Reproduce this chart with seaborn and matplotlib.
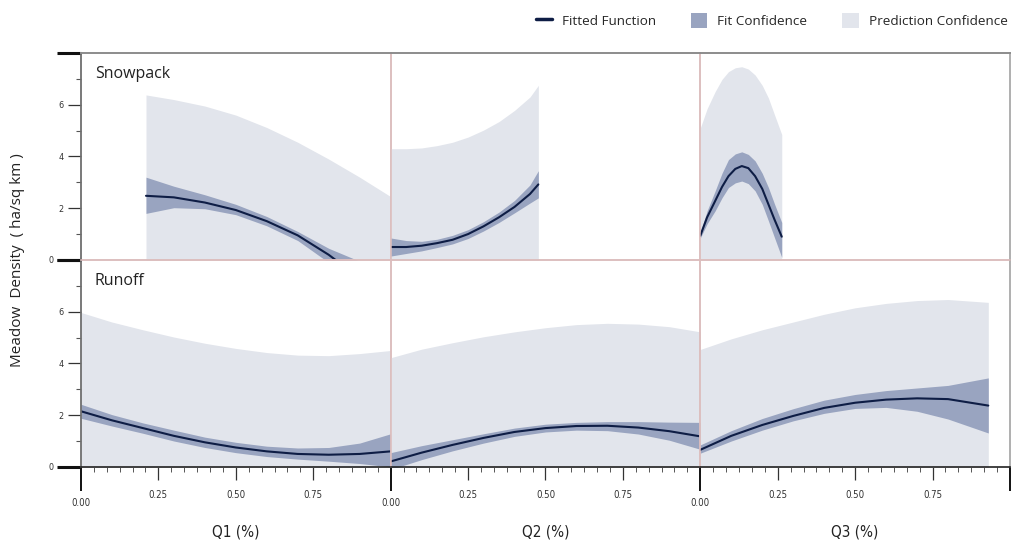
import matplotlib
matplotlib.use("Agg")
import matplotlib.pyplot as plt
from matplotlib.lines import Line2D
from matplotlib.patches import Patch
from matplotlib.ticker import FixedLocator, AutoMinorLocator
from matplotlib.font_manager import FontProperties
import seaborn as sns

# values
rows = ['Snowpack', 'Runoff']
xlabels = ['Q1 (%)', 'Q2 (%)', 'Q3 (%)']

# Snowpack / Q1
sq1_x = [0.21, 0.3, 0.4, 0.5, 0.6, 0.7, 0.8, 0.9, 1.0]
sq1_fit = [2.48, 2.42, 2.22, 1.93, 1.5, 0.95, 0.2, -0.7, -1.6]
sq1_lo = [1.8, 2.02, 1.98, 1.75, 1.32, 0.75, -0.1, -1.4, -2.6]
sq1_hi = [3.2, 2.85, 2.52, 2.15, 1.68, 1.1, 0.45, -0.05, -0.8]
sq1_plo = [-1.4, -1.4, -1.5, -1.7, -2.1, -2.6, -3.3, -4.2, -5.2]
sq1_phi = [6.38, 6.2, 5.95, 5.6, 5.12, 4.55, 3.9, 3.2, 2.45]

# Snowpack / Q2
sq2_x = [0.0, 0.05, 0.1, 0.15, 0.2, 0.25, 0.3, 0.35, 0.4, 0.45, 0.477]
sq2_fit = [0.5, 0.5, 0.55, 0.65, 0.78, 1.0, 1.3, 1.65, 2.05, 2.55, 2.92]
sq2_lo = [0.15, 0.25, 0.35, 0.48, 0.62, 0.83, 1.12, 1.45, 1.82, 2.2, 2.4]
sq2_hi = [0.85, 0.75, 0.72, 0.8, 0.95, 1.17, 1.48, 1.85, 2.3, 2.9, 3.45]
sq2_plo = [-3.3, -3.3, -3.2, -3.1, -3.0, -2.8, -2.4, -2.0, -1.6, -1.2, -0.9]
sq2_phi = [4.3, 4.3, 4.33, 4.42, 4.55, 4.75, 5.02, 5.35, 5.78, 6.3, 6.75]

# Snowpack / Q3
sq3_x = [0.0, 0.022, 0.048, 0.07, 0.091, 0.113, 0.134, 0.155, 0.177, 0.2, 0.22, 0.24, 0.263]
sq3_fit = [0.94, 1.65, 2.28, 2.82, 3.24, 3.52, 3.63, 3.55, 3.24, 2.75, 2.15, 1.55, 0.9]
sq3_lo = [0.85, 1.4, 1.9, 2.4, 2.8, 2.98, 3.05, 2.95, 2.67, 2.15, 1.51, 0.85, 0.1]
sq3_hi = [1.05, 1.9, 2.67, 3.35, 3.88, 4.1, 4.18, 4.08, 3.83, 3.35, 2.8, 2.15, 1.45]
sq3_plo = [-3.0, -2.3, -1.6, -1.1, -0.7, -0.45, -0.35, -0.45, -0.7, -1.1, -1.6, -2.2, -3.0]
sq3_phi = [5.1, 5.85, 6.51, 6.98, 7.28, 7.43, 7.47, 7.38, 7.15, 6.75, 6.26, 5.6, 4.85]

# Runoff / Q1
rq1_x = [0.0, 0.1, 0.2, 0.3, 0.4, 0.5, 0.6, 0.7, 0.8, 0.9, 1.0]
rq1_fit = [2.15, 1.8, 1.5, 1.2, 0.95, 0.75, 0.6, 0.5, 0.47, 0.5, 0.6]
rq1_lo = [1.88, 1.58, 1.3, 1.0, 0.75, 0.55, 0.4, 0.3, 0.22, 0.13, 0.0]
rq1_hi = [2.42, 2.02, 1.7, 1.42, 1.15, 0.95, 0.8, 0.73, 0.75, 0.92, 1.28]
rq1_plo = [-1.7, -2.0, -2.3, -2.6, -2.9, -3.1, -3.2, -3.3, -3.4, -3.4, -3.3]
rq1_phi = [5.97, 5.6, 5.3, 5.02, 4.78, 4.58, 4.42, 4.32, 4.3, 4.38, 4.5]

# Runoff / Q2
rq2_x = [0.0, 0.1, 0.2, 0.3, 0.4, 0.5, 0.6, 0.7, 0.8, 0.9, 1.0]
rq2_fit = [0.21, 0.55, 0.85, 1.12, 1.35, 1.5, 1.58, 1.59, 1.52, 1.38, 1.18]
rq2_lo = [-0.1, 0.28, 0.62, 0.92, 1.18, 1.35, 1.42, 1.4, 1.27, 1.03, 0.68]
rq2_hi = [0.55, 0.82, 1.05, 1.28, 1.5, 1.65, 1.72, 1.75, 1.75, 1.73, 1.72]
rq2_plo = [-3.8, -3.4, -3.1, -2.8, -2.5, -2.4, -2.3, -2.4, -2.5, -2.7, -2.9]
rq2_phi = [4.22, 4.55, 4.8, 5.03, 5.22, 5.38, 5.5, 5.55, 5.52, 5.42, 5.22]

# Runoff / Q3
rq3_x = [0.0, 0.1, 0.2, 0.3, 0.4, 0.5, 0.6, 0.7, 0.8, 0.93]
rq3_fit = [0.66, 1.2, 1.62, 1.97, 2.28, 2.48, 2.6, 2.65, 2.62, 2.37]
rq3_lo = [0.53, 1.0, 1.42, 1.78, 2.07, 2.26, 2.3, 2.15, 1.85, 1.31]
rq3_hi = [0.85, 1.4, 1.87, 2.25, 2.58, 2.8, 2.95, 3.05, 3.15, 3.44]
rq3_plo = [-3.2, -2.5, -2.0, -1.6, -1.3, -1.2, -1.1, -1.1, -1.2, -1.6]
rq3_phi = [4.54, 4.95, 5.3, 5.6, 5.9, 6.15, 6.32, 6.43, 6.47, 6.36]

panels = [
    [(sq1_x, sq1_fit, sq1_lo, sq1_hi, sq1_plo, sq1_phi),
     (sq2_x, sq2_fit, sq2_lo, sq2_hi, sq2_plo, sq2_phi),
     (sq3_x, sq3_fit, sq3_lo, sq3_hi, sq3_plo, sq3_phi)],
    [(rq1_x, rq1_fit, rq1_lo, rq1_hi, rq1_plo, rq1_phi),
     (rq2_x, rq2_fit, rq2_lo, rq2_hi, rq2_plo, rq2_phi),
     (rq3_x, rq3_fit, rq3_lo, rq3_hi, rq3_plo, rq3_phi)],
]

LINE = '#0e1d45'
FITC = '#99a4c0'
PRED = '#e2e5ec'
PINK = '#dcbdbd'

sns.set_theme(style='white')
plt.rcParams['font.family'] = ['Open Sans', 'DejaVu Sans']

cond = FontProperties(family='DejaVu Sans', stretch='condensed', size=6.5)
cond_x = FontProperties(family='DejaVu Sans', stretch='condensed', size=6.9)
cond_big = FontProperties(family='DejaVu Sans', stretch='condensed', size=11)

fig = plt.figure(figsize=(10.12, 5.41), dpi=100)
gs = fig.add_gridspec(2, 3, left=0.080, right=0.998, top=0.902, bottom=0.137,
                      wspace=0, hspace=0)
axes = gs.subplots()

for r in range(2):
    for c in range(3):
        ax = axes[r, c]
        x, fit, lo, hi, plo, phi = panels[r][c]
        ax.patch.set_visible(False)
        ax.fill_between(x, plo, phi, color=PRED, lw=0)
        ax.fill_between(x, lo, hi, color=FITC, lw=0)
        sns.lineplot(x=x, y=fit, ax=ax, color=LINE, lw=1.5)
        ax.set_xlim(0, 1)
        ax.set_ylim(0, 8)
        ax.set_xlabel('')
        ax.set_ylabel('')

        for s in ax.spines.values():
            s.set_color(PINK)
            s.set_linewidth(1.1)
        if r == 0:
            ax.spines['top'].set_color('#8c8c8c')
            ax.spines['top'].set_linewidth(1.4)
        if r == 1:
            ax.spines['bottom'].set_color('#222222')
            ax.spines['bottom'].set_linewidth(1.2)
        if c == 0:
            ax.spines['left'].set_color('#6e6e6e')
            ax.spines['left'].set_linewidth(1.3)
        if c == 2:
            ax.spines['right'].set_color('#9a9a9a')

        # y axis
        if c == 0:
            ax.yaxis.set_major_locator(FixedLocator([0, 2, 4, 6, 8]))
            ax.set_yticklabels(['0', '2', '4', '6', ''])
            ax.yaxis.set_minor_locator(FixedLocator([1, 3, 5, 7]))
            ax.tick_params(axis='y', which='major', left=True, length=9.5, width=0.9,
                           color='#333333', pad=3, labelcolor='#333333')
            ax.tick_params(axis='y', which='minor', left=True, length=3.5, width=0.8,
                           color='#555555')
            for lab in ax.get_yticklabels():
                lab.set_fontproperties(cond)
            ticks = ax.yaxis.get_major_ticks(5)
            for i in (0, 4):
                ticks[i]._apply_params(size=17, width=2.2, color='#111111')
        else:
            ax.tick_params(axis='y', which='both', left=False, labelleft=False)

        # x axis
        if r == 1:
            locs = [0, 0.25, 0.5, 0.75]
            labs = ['0.00', '0.25', '0.50', '0.75']
            if c == 2:
                locs = locs + [1.0]
                labs = labs + ['']
            ax.xaxis.set_major_locator(FixedLocator(locs))
            ax.set_xticklabels(labs)
            ax.xaxis.set_minor_locator(AutoMinorLocator(6))
            ax.tick_params(axis='x', which='major', bottom=True, length=9.5, width=0.9,
                           color='#333333', pad=7.5, labelcolor='#333333')
            ax.tick_params(axis='x', which='minor', bottom=True, length=3.5, width=0.7,
                           color='#555555')
            for lab in ax.get_xticklabels():
                lab.set_fontproperties(cond_x)
            ticks = ax.xaxis.get_major_ticks(len(locs))
            ticks[0]._apply_params(size=17, width=1.4, color='#111111', pad=5.5)
            if c == 2:
                ticks[-1]._apply_params(size=17, width=1.4, color='#111111')
            ax.text(0.5, -0.316, xlabels[c], transform=ax.transAxes, ha='center',
                    va='center', fontproperties=cond_big, color='#222222')
        else:
            ax.tick_params(axis='x', which='both', bottom=False, labelbottom=False)

    axes[r, 0].text(0.045, 0.9, rows[r], transform=axes[r, 0].transAxes,
                    ha='left', va='center', fontsize=11.5, color='#222222')

fig.text(0.017, 0.52, 'Meadow  Density  ( ha/sq km )', rotation=90,
         ha='center', va='center', fontsize=11, color='#222222')

handles = [Line2D([0], [0], color=LINE, lw=2.5),
           Patch(facecolor=FITC, edgecolor='none'),
           Patch(facecolor=PRED, edgecolor='none')]
fig.legend(handles, ['Fitted Function', 'Fit Confidence', 'Prediction Confidence'],
           loc='upper right', bbox_to_anchor=(1.003, 0.989), ncol=3, frameon=False,
           fontsize=9.7, handlelength=1.2, handleheight=1.35, columnspacing=2.6,
           handletextpad=0.75, borderaxespad=0.15)

fig.savefig('out.png', dpi=100)
